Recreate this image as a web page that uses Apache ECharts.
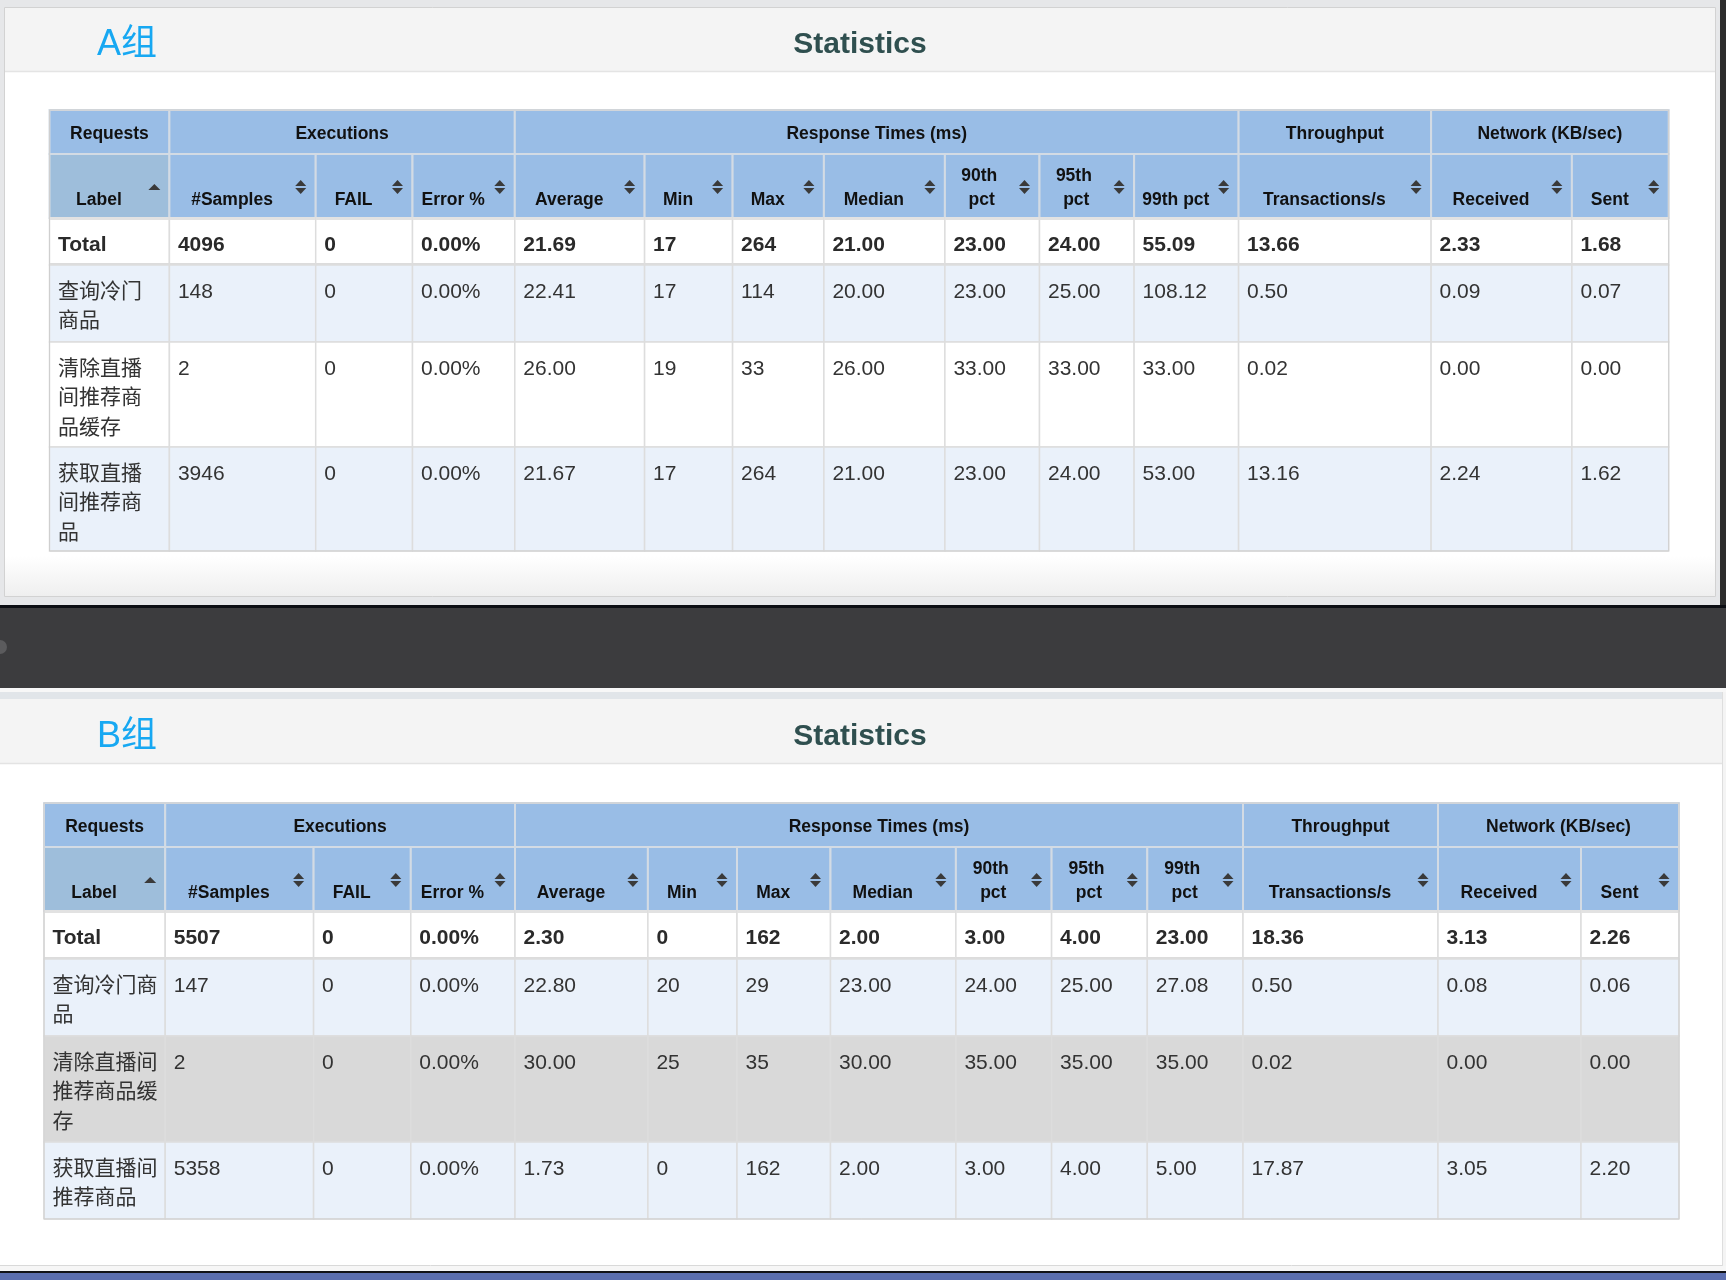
<!DOCTYPE html>
<html>
<head>
<meta charset="utf-8">
<title>Statistics</title>
<script src="https://cdn.jsdelivr.net/npm/echarts@6/dist/echarts.min.js"></script>
<style>
    html, body { margin: 0; padding: 0; background: #e8e9eb; }
    #main { width: 1726px; height: 1280px; }
</style>
</head>
<body>
<div id="main"></div>
<script>
// ---- table text / data ----
var groupNames = ['Requests', 'Executions', 'Response Times (ms)', 'Throughput', 'Network (KB/sec)'];
var groupSpans = [1, 3, 7, 1, 2];
var columnNames = ['Label', '#Samples', 'FAIL', 'Error %', 'Average', 'Min', 'Max', 'Median',
                   '90th pct', '95th pct', '99th pct', 'Transactions/s', 'Received', 'Sent'];
var rowLabels = ['Total', '查询冷门商品', '清除直播间推荐商品缓存', '获取直播间推荐商品'];
// decimals for the 13 value columns, '%' only on Error %
var decimals = [0, 0, 2, 2, 0, 0, 2, 2, 2, 2, 2, 2, 2];

// A组: #Samples, FAIL, Error%, Average, Min, Max, Median, 90th, 95th, 99th, Trans/s, Received, Sent
var aTotal = [4096, 0, 0, 21.69, 17, 264, 21.00, 23.00, 24.00, 55.09, 13.66, 2.33, 1.68];
var aCold  = [148, 0, 0, 22.41, 17, 114, 20.00, 23.00, 25.00, 108.12, 0.50, 0.09, 0.07];
var aClear = [2, 0, 0, 26.00, 19, 33, 26.00, 33.00, 33.00, 33.00, 0.02, 0.00, 0.00];
var aFetch = [3946, 0, 0, 21.67, 17, 264, 21.00, 23.00, 24.00, 53.00, 13.16, 2.24, 1.62];

// B组
var bTotal = [5507, 0, 0, 2.30, 0, 162, 2.00, 3.00, 4.00, 23.00, 18.36, 3.13, 2.26];
var bCold  = [147, 0, 0, 22.80, 20, 29, 23.00, 24.00, 25.00, 27.08, 0.50, 0.08, 0.06];
var bClear = [2, 0, 0, 30.00, 25, 35, 30.00, 35.00, 35.00, 35.00, 0.02, 0.00, 0.00];
var bFetch = [5358, 0, 0, 1.73, 0, 162, 2.00, 3.00, 4.00, 5.00, 17.87, 3.05, 2.20];

// ---- layout (page pixels) ----
var FONT = '"Liberation Sans", Arial, "Noto Sans CJK SC", sans-serif';
var tables = [
    {
        title: 'A组', titleY: 45,
        rows: [aTotal, aCold, aClear, aFetch],
        cols: [49.5, 169.4, 315.7, 412.5, 514.8, 644.6, 732.6, 823.9, 944.9, 1039.5, 1134.1, 1238.6, 1431.1, 1571.9, 1668.7],
        ys: [110, 154, 218, 265, 342, 447, 551],
        labelWrap: 100,
        fills: ['#ffffff', '#eaf1fa', '#ffffff', '#eaf1fa']
    },
    {
        title: 'B组', titleY: 737,
        rows: [bTotal, bCold, bClear, bFetch],
        cols: [44, 165.2, 313.6, 410.8, 515, 647.9, 737, 830.5, 955.9, 1051.6, 1147.3, 1243, 1438, 1581, 1679],
        ys: [803, 847, 911, 959, 1036, 1142, 1219],
        labelWrap: 106,
        fills: ['#ffffff', '#eaf1fa', '#d9d9d9', '#eaf1fa']
    }
];

function fmt(v, j) {
    return v.toFixed(decimals[j]) + (j === 2 ? '%' : '');
}

function buildCells(t) {
    var cells = [];
    var c = 0;
    groupNames.forEach(function (name, g) {
        cells.push({ kind: 'group', c0: c, c1: c + groupSpans[g], r: 0, text: name });
        c += groupSpans[g];
    });
    columnNames.forEach(function (name, j) {
        cells.push({ kind: 'head', c0: j, c1: j + 1, r: 1, text: name });
    });
    t.rows.forEach(function (vals, i) {
        cells.push({ kind: 'body', c0: 0, c1: 1, r: 2 + i, i: i, text: rowLabels[i] });
        vals.forEach(function (v, j) {
            cells.push({ kind: 'body', c0: j + 1, c1: j + 2, r: 2 + i, i: i, text: fmt(v, j) });
        });
    });
    cells.push({ kind: 'frame', c0: 0, c1: columnNames.length, r: 0, r1: t.ys.length - 1 });
    return cells;
}

function makeRender(t, cells) {
    return function (params, api) {
        var cell = cells[params.dataIndex];
        var p0 = api.coord([t.cols[cell.c0], t.ys[cell.r]]);
        var p1 = api.coord([t.cols[cell.c1], t.ys[cell.r1 != null ? cell.r1 : cell.r + 1]]);
        var x0 = p0[0], y0 = p0[1], w = p1[0] - x0, h = p1[1] - y0;
        var kids = [];
        if (cell.kind === 'frame') {
            kids.push({ type: 'rect', shape: { x: x0, y: y0, width: w, height: h },
                style: { fill: 'none', stroke: '#cfcfcf', lineWidth: 1 } });
        } else if (cell.kind === 'group') {
            kids.push({ type: 'rect', shape: { x: x0, y: y0, width: w, height: h },
                style: { fill: '#99bde6', stroke: '#d3dbe4', lineWidth: 2 } });
            kids.push({ type: 'text', style: { text: cell.text, x: x0 + w / 2, y: y0 + h / 2 + 2.5,
                align: 'center', verticalAlign: 'middle', fill: '#111',
                font: 'bold 17.5px ' + FONT } });
        } else if (cell.kind === 'head') {
            kids.push({ type: 'rect', shape: { x: x0, y: y0, width: w, height: h },
                style: { fill: cell.c0 === 0 ? '#9ebedb' : '#99bde6', stroke: '#d3dbe4', lineWidth: 2 } });
            kids.push({ type: 'text', style: { text: cell.text, x: x0 + (w - 21) / 2, y: y0 + h - 5.5,
                width: w - 32, overflow: 'break', lineHeight: 24,
                align: 'center', verticalAlign: 'bottom', fill: '#111',
                font: 'bold 17.5px ' + FONT } });
            var cx = x0 + w - 15, cy = y0 + 33;
            if (cell.c0 === 0) {
                kids.push({ type: 'polygon', shape: { points: [[cx - 6, cy + 3], [cx + 6, cy + 3], [cx, cy - 3]] },
                    style: { fill: '#3a3a3a' } });
            } else {
                kids.push({ type: 'polygon', shape: { points: [[cx - 5.5, cy - 1], [cx + 5.5, cy - 1], [cx, cy - 7]] },
                    style: { fill: '#3a3a3a' } });
                kids.push({ type: 'polygon', shape: { points: [[cx - 5.5, cy + 1], [cx + 5.5, cy + 1], [cx, cy + 7]] },
                    style: { fill: '#3a3a3a' } });
            }
        } else {
            kids.push({ type: 'rect', shape: { x: x0, y: y0, width: w, height: h },
                style: { fill: t.fills[cell.i], stroke: '#dddddd', lineWidth: 1.5 } });
            if (cell.i === 0) {
                kids.push({ type: 'line', shape: { x1: x0, y1: y0 + 0.5, x2: x0 + w, y2: y0 + 0.5 },
                    style: { stroke: '#e2e2e2', lineWidth: 3 } });
                kids.push({ type: 'line', shape: { x1: x0, y1: y0 + h - 0.5, x2: x0 + w, y2: y0 + h - 0.5 },
                    style: { stroke: '#dcdcdc', lineWidth: 3 } });
            }
            var st = { text: cell.text, x: x0 + 8.5, y: y0 + 12, lineHeight: 29.5,
                align: 'left', verticalAlign: 'top',
                fill: cell.i === 0 ? '#2a2a2a' : '#333333',
                font: (cell.i === 0 ? 'bold ' : '') + '21px ' + FONT };
            if (cell.c0 === 0) {
                st.width = t.labelWrap;
                st.overflow = 'break';
            }
            kids.push({ type: 'text', style: st });
        }
        return { type: 'group', children: kids };
    };
}

var series = tables.map(function (t) {
    var cells = buildCells(t);
    return {
        type: 'custom',
        coordinateSystem: 'cartesian2d',
        clip: false,
        silent: true,
        animation: false,
        data: cells.map(function (c) { return [t.cols[c.c0], t.ys[c.r]]; }),
        renderItem: makeRender(t, cells)
    };
});

// page chrome: two report panels separated by a dark band
var chrome = [
    { type: 'rect', shape: { x: 0, y: 0, width: 1726, height: 606 }, style: { fill: '#e6e7e9' } },
    { type: 'rect', shape: { x: 4.5, y: 7.5, width: 1711, height: 589 }, style: { fill: '#ffffff', stroke: '#d2d2d2', lineWidth: 1 } },
    { type: 'rect', shape: { x: 5, y: 8, width: 1710, height: 63 }, style: { fill: '#f4f4f4' } },
    { type: 'line', shape: { x1: 5, y1: 71.5, x2: 1715, y2: 71.5 }, style: { stroke: '#e4e4e4', lineWidth: 1.5 } },
    { type: 'rect', shape: { x: 5, y: 556, width: 1710, height: 40 },
      style: { fill: new echarts.graphic.LinearGradient(0, 0, 0, 1, [{ offset: 0, color: '#ffffff' }, { offset: 1, color: '#efefef' }]) } },
    { type: 'rect', shape: { x: 1720, y: 0, width: 6, height: 606 }, style: { fill: '#2c2c2c' } },
    { type: 'rect', shape: { x: 0, y: 605, width: 1726, height: 3 }, style: { fill: '#0c0e13' } },
    { type: 'rect', shape: { x: 0, y: 608, width: 1726, height: 80 }, style: { fill: '#3c3c3e' } },
    { type: 'circle', shape: { cx: 0, cy: 647, r: 7 }, style: { fill: '#5b5b5d' } },
    { type: 'rect', shape: { x: 0, y: 688, width: 1726, height: 4 }, style: { fill: '#f7f7f7' } },
    { type: 'rect', shape: { x: 0, y: 692, width: 1726, height: 7 }, style: { fill: '#e1e5e9' } },
    { type: 'rect', shape: { x: 0, y: 699, width: 1726, height: 567 }, style: { fill: '#ffffff' } },
    { type: 'rect', shape: { x: 0, y: 699, width: 1722, height: 64 }, style: { fill: '#f4f4f4' } },
    { type: 'line', shape: { x1: 0, y1: 763.5, x2: 1722, y2: 763.5 }, style: { stroke: '#e3e3e3', lineWidth: 1.5 } },
    { type: 'line', shape: { x1: 1722.5, y1: 692, x2: 1722.5, y2: 1266 }, style: { stroke: '#dedede', lineWidth: 1 } },
    { type: 'rect', shape: { x: 1723, y: 692, width: 3, height: 580 }, style: { fill: '#f4f4f4' } },
    { type: 'line', shape: { x1: 0, y1: 1265.5, x2: 1722, y2: 1265.5 }, style: { stroke: '#d9d9d9', lineWidth: 1 } },
    { type: 'rect', shape: { x: 0, y: 1266, width: 1726, height: 5 }, style: { fill: '#f6f6f6' } },
    { type: 'rect', shape: { x: 0, y: 1271, width: 1726, height: 2 }, style: { fill: '#111216' } },
    { type: 'rect', shape: { x: 0, y: 1273, width: 1726, height: 7 }, style: { fill: '#5b6eae' } }
];
tables.forEach(function (t) {
    chrome.push({ type: 'text', style: { text: t.title, x: 97, y: t.titleY, verticalAlign: 'middle',
        fill: '#17a8f2', font: '36px ' + FONT } });
    chrome.push({ type: 'text', style: { text: 'Statistics', x: 860, y: t.titleY, align: 'center',
        verticalAlign: 'middle', fill: '#2f4f4f', font: 'bold 30px ' + FONT } });
});
chrome.forEach(function (e) { e.z = -10; e.silent = true; });

var myChart = echarts.init(document.getElementById('main'), null, { renderer: 'canvas' });
myChart.setOption({
    backgroundColor: '#e8e9eb',
    animation: false,
    grid: { left: 0, right: 0, top: 0, bottom: 0 },
    xAxis: { type: 'value', min: 0, max: 1726, show: false },
    yAxis: { type: 'value', min: 0, max: 1280, inverse: true, show: false },
    graphic: { elements: chrome },
    series: series
});
</script>
</body>
</html>
